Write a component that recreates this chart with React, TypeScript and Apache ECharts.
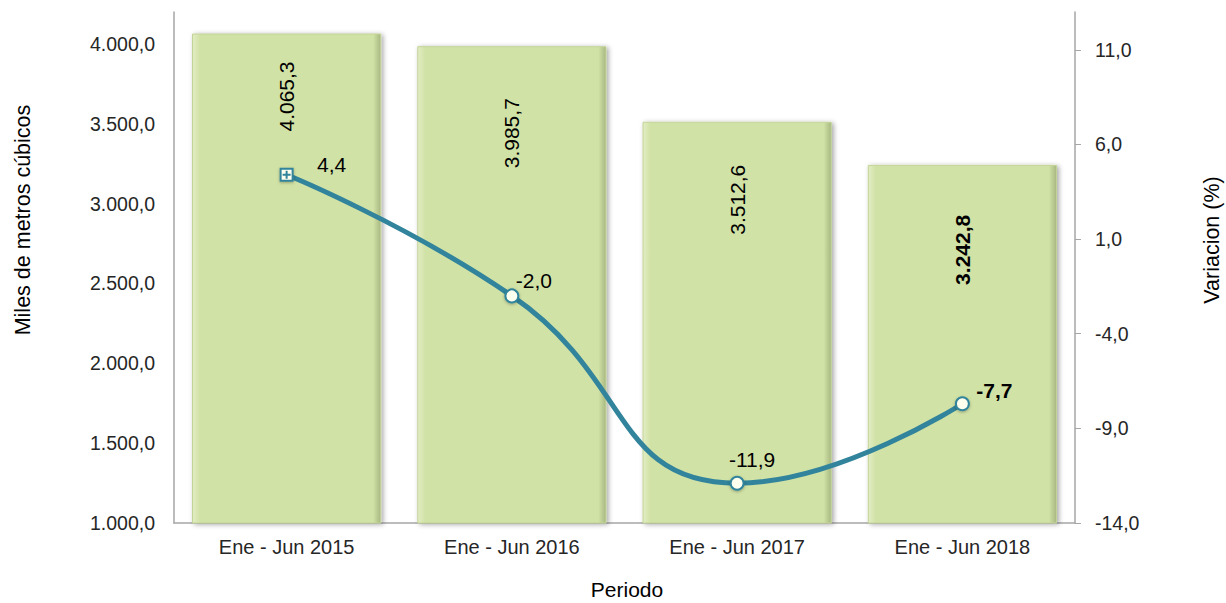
import React, { useEffect, useRef } from 'react';
import * as echarts from 'echarts';

const categories = ['Ene - Jun 2015', 'Ene - Jun 2016', 'Ene - Jun 2017', 'Ene - Jun 2018'];
const volumes = [4065.3, 3985.7, 3512.6, 3242.8];
const variations = [4.4, -2.0, -11.9, -7.7];
const leftTicks = [1000, 1500, 2000, 2500, 3000, 3500, 4000];
const rightTicks = [-14, -9, -4, 1, 6, 11];
const barLabelOffsets = [63, 87, 78, 85];
const lineLabelOffsets = [[45, -10], [22, -15], [15, -24], [32, -13]];

const FONT = '"Liberation Sans", Arial, sans-serif';
const AXIS_COLOR = '#A6A6A6';
const LINE_COLOR = '#31849B';

function fmt(v: number): string {
  const neg = v < 0;
  const s = Math.abs(v).toFixed(1);
  const [i, d] = s.split('.');
  const ii = i.replace(/\B(?=(\d{3})+(?!\d))/g, '.');
  return (neg ? '-' : '') + ii + ',' + d;
}

export default function App() {
  const ref = useRef<HTMLDivElement>(null);

  useEffect(() => {
    if (!ref.current) return;
    const chart = echarts.init(ref.current, undefined, { renderer: 'svg' });
    const squarePlus = 'path://M0 0H12V12H0ZM6 2V10M2 6H10';
    chart.setOption({
      animation: false,
      backgroundColor: '#ffffff',
      textStyle: { fontFamily: FONT },
      grid: { left: 174, right: 151, top: 12, bottom: 80 },
      xAxis: {
        type: 'category',
        data: categories,
        axisLine: { onZero: false, lineStyle: { color: AXIS_COLOR, width: 1.5 } },
        axisTick: { show: false },
        axisLabel: { fontSize: 20, color: '#262626', margin: 14, fontFamily: FONT },
      },
      yAxis: [
        {
          type: 'value',
          min: 1000,
          max: 4200,
          position: 'left',
          axisLine: { show: true, lineStyle: { color: AXIS_COLOR, width: 1.5 } },
          axisTick: { show: false, customValues: leftTicks },
          splitLine: { show: false },
          axisLabel: {
            customValues: leftTicks,
            fontSize: 19.5,
            color: '#262626',
            margin: 19,
            fontFamily: FONT,
            formatter: (v: number) => fmt(v),
          },
        },
        {
          type: 'value',
          min: -14,
          max: 13,
          position: 'right',
          axisLine: { show: true, lineStyle: { color: AXIS_COLOR, width: 1.5 } },
          axisTick: { show: true, length: 6, customValues: rightTicks, lineStyle: { color: AXIS_COLOR } },
          splitLine: { show: false },
          axisLabel: {
            customValues: rightTicks,
            fontSize: 19.5,
            color: '#262626',
            margin: 20,
            fontFamily: FONT,
            formatter: (v: number) => fmt(v),
          },
        },
      ],
      series: [
        {
          type: 'bar',
          yAxisIndex: 0,
          barWidth: '84%',
          data: volumes.map((v, i) => ({
            value: v,
            label: {
              position: ['50%', barLabelOffsets[i]],
              fontWeight: i === volumes.length - 1 ? 'bold' : 'normal',
            },
          })),
          itemStyle: {
            color: new echarts.graphic.LinearGradient(0, 0, 1, 0, [
              { offset: 0, color: '#E2EDC4' },
              { offset: 0.04, color: '#D1E2A6' },
              { offset: 0.96, color: '#D1E2A6' },
              { offset: 1, color: '#A7B781' },
            ]),
            borderColor: '#C3D498',
            borderWidth: 1,
            shadowColor: 'rgba(0,0,0,0.35)',
            shadowBlur: 5,
            shadowOffsetX: 2,
            shadowOffsetY: 1,
          },
          label: {
            show: true,
            rotate: 90,
            align: 'center',
            verticalAlign: 'middle',
            fontSize: 21,
            color: '#000000',
            fontFamily: FONT,
            formatter: (p: any) => fmt(p.value),
          },
        },
        {
          type: 'line',
          yAxisIndex: 1,
          smooth: true,
          z: 5,
          data: variations.map((v, i) => ({
            value: v,
            symbol: i === 0 ? squarePlus : 'circle',
            symbolSize: i === 0 ? 12 : 13,
            label: {
              offset: lineLabelOffsets[i],
              fontWeight: i === variations.length - 1 ? 'bold' : 'normal',
            },
          })),
          lineStyle: { color: LINE_COLOR, width: 5 },
          itemStyle: {
            color: '#FFFFF0',
            borderColor: LINE_COLOR,
            borderWidth: 2,
            shadowColor: 'rgba(0,0,0,0.3)',
            shadowBlur: 3,
            shadowOffsetY: 1,
          },
          label: {
            show: true,
            position: 'inside',
            align: 'center',
            verticalAlign: 'middle',
            fontSize: 21,
            color: '#000000',
            fontFamily: FONT,
            formatter: (p: any) => fmt(p.value),
          },
        },
      ],
      graphic: [
        {
          type: 'text',
          x: 23,
          y: 220,
          rotation: Math.PI / 2,
          style: {
            text: 'Miles de metros cúbicos',
            fontSize: 21.5,
            fontFamily: FONT,
            fill: '#000000',
            align: 'center',
            verticalAlign: 'middle',
          },
        },
        {
          type: 'text',
          x: 1212,
          y: 240,
          rotation: Math.PI / 2,
          style: {
            text: 'Variacion (%)',
            fontSize: 21.5,
            fontFamily: FONT,
            fill: '#000000',
            align: 'center',
            verticalAlign: 'middle',
          },
        },
        {
          type: 'text',
          x: 627,
          y: 589,
          style: {
            text: 'Periodo',
            fontSize: 21,
            fontFamily: FONT,
            fill: '#000000',
            align: 'center',
            verticalAlign: 'middle',
          },
        },
      ],
    });
    return () => chart.dispose();
  }, []);

  return (
    <div
      ref={ref}
      style={{ position: 'fixed', left: 0, top: 0, width: 1226, height: 603 }}
    />
  );
}
